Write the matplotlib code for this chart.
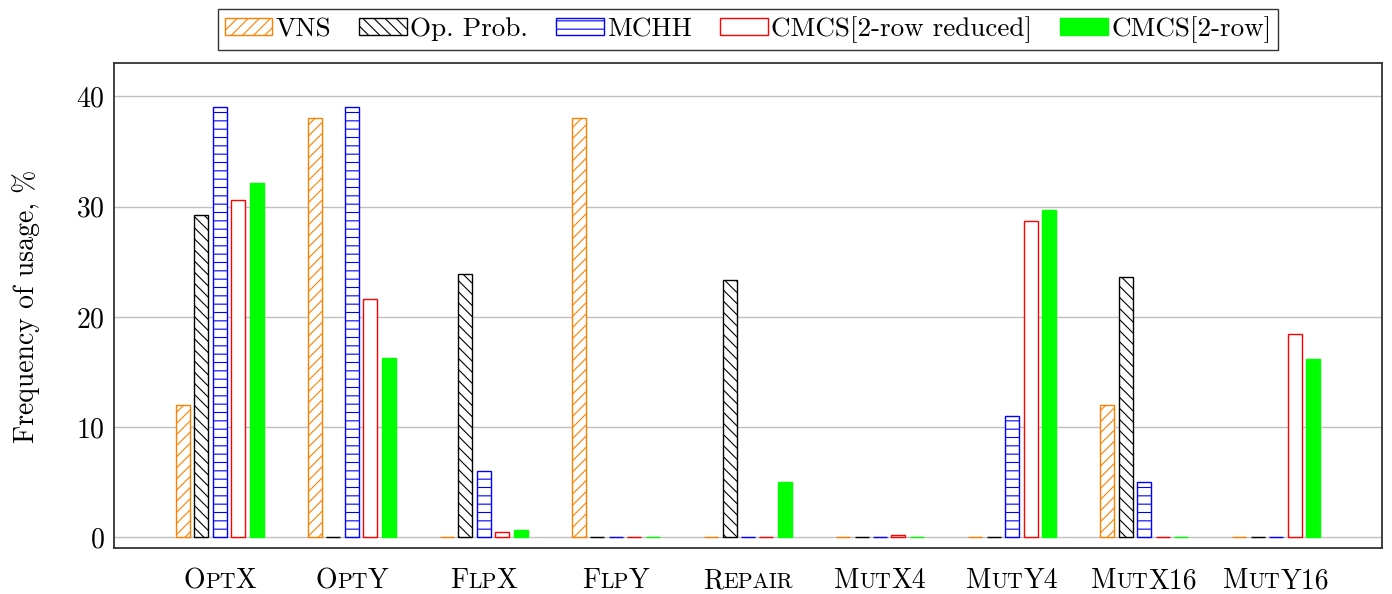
import numpy as np
import matplotlib
matplotlib.use("Agg")
import matplotlib.pyplot as plt
from matplotlib.offsetbox import TextArea, HPacker, AnnotationBbox

plt.rcParams["font.family"] = "cmr10"
plt.rcParams["mathtext.fontset"] = "cm"
plt.rcParams["axes.formatter.use_mathtext"] = True
plt.rcParams["hatch.linewidth"] = 0.8

# data
operators = ["OptX", "OptY", "FlpX", "FlpY", "Repair", "MutX4", "MutY4", "MutX16", "MutY16"]
vns = [12.0, 38.0, 0, 38.0, 0, 0, 0, 12.0, 0]
op_prob = [29.2, 0, 23.9, 0, 23.3, 0, 0, 23.6, 0]
mchh = [39.0, 39.0, 6.0, 0, 0, 0, 11.0, 5.0, 0]
cmcs_reduced = [30.6, 21.6, 0.5, 0, 0, 0.2, 28.7, 0, 18.4]
cmcs = [32.1, 16.3, 0.7, 0, 5.0, 0, 29.7, 0, 16.2]

series = [
    ("VNS", vns, dict(facecolor="white", edgecolor="#ff8000", hatch="///")),
    ("Op. Prob.", op_prob, dict(facecolor="white", edgecolor="black", hatch="\\\\\\")),
    ("MCHH", mchh, dict(facecolor="white", edgecolor="blue", hatch="--")),
    ("CMCS[2-row reduced]", cmcs_reduced, dict(facecolor="white", edgecolor="red")),
    ("CMCS[2-row]", cmcs, dict(facecolor="#00ff00", edgecolor="#00ff00")),
]


def small_caps_label(name, size=20):
    # split into runs: uppercase/digits full size, lowercase as small capitals
    parts = []
    cur, cur_low = "", None
    for ch in name:
        low = ch.islower()
        if cur and low != cur_low:
            parts.append((cur, cur_low))
            cur = ""
        cur += ch
        cur_low = low
    parts.append((cur, cur_low))
    boxes = []
    for txt, low in parts:
        if low:
            boxes.append(TextArea(txt.upper(), textprops=dict(size=size * 0.78, family="cmr10")))
        else:
            boxes.append(TextArea(txt, textprops=dict(size=size, family="cmr10")))
    return HPacker(children=boxes, align="baseline", pad=0, sep=0)


fig = plt.figure(figsize=(13.92, 5.94), dpi=100)
ax = fig.add_axes([0.0821, 0.0769, 0.9105, 0.8165])

x = np.arange(len(operators))
pitch = 0.14
width = 0.106
handles = []
for k, (label, values, style) in enumerate(series):
    bars = ax.bar(x + (k - 2) * pitch, values, width, label=label, linewidth=1.0, zorder=3, **style)
    handles.append(bars)

ax.set_xlim(-0.8, 8.8)
ax.set_ylim(-1.0, 43)
ax.set_yticks([0, 10, 20, 30, 40])
ax.set_xticks(x)
ax.set_xticklabels([])
ax.tick_params(axis="both", length=0, labelsize=20)
ax.tick_params(axis="y", pad=7)
ax.yaxis.grid(True, color="#bfbfbf", linewidth=1.0, zorder=0)
ax.set_axisbelow(True)
for sp in ax.spines.values():
    sp.set_color("#333333")
    sp.set_linewidth(1.3)

for i, name in enumerate(operators):
    ab = AnnotationBbox(small_caps_label(name), (i, 0), xycoords=ax.get_xaxis_transform(),
                        xybox=(0, -14), boxcoords="offset points", box_alignment=(0.5, 1),
                        frameon=False, pad=0)
    ax.add_artist(ab)

ax.set_ylabel("Frequency of usage, %", fontsize=20, labelpad=26)

leg = ax.legend(handles=handles, loc="lower center", bbox_to_anchor=(0.5, 1.028), ncol=5,
                fontsize=19.5, frameon=True, fancybox=False, edgecolor="black",
                handlelength=1.75, handleheight=0.6, handletextpad=0.12, columnspacing=1.05,
                borderpad=0.25, borderaxespad=0)
leg.get_frame().set_linewidth(1.0)

fig.savefig("out.png", dpi=100)
